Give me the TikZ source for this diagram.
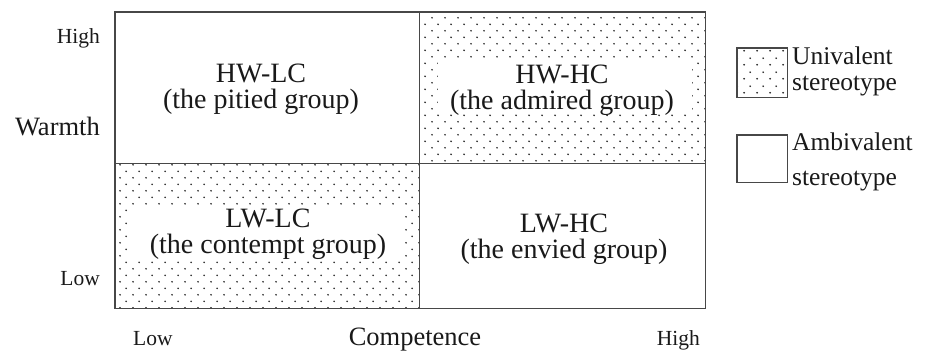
\documentclass[tikz,border=0pt]{standalone}
\usepackage{fontspec}
\setmainfont{Liberation Serif}
\usetikzlibrary{patterns}

% staggered dot fill used for the univalent quadrants
\pgfdeclarepatternformonly{stagdots}{\pgfqpoint{0pt}{0pt}}{\pgfqpoint{13pt}{13.4pt}}{\pgfqpoint{13pt}{13.4pt}}{%
  \pgfpathcircle{\pgfqpoint{3.25pt}{3.35pt}}{1.0pt}%
  \pgfpathcircle{\pgfqpoint{9.75pt}{10.05pt}}{1.0pt}%
  \pgfusepath{fill}}

\tikzset{
  frame/.style={draw=black!72, line width=1.8pt},
  dotted area/.style={pattern=stagdots, pattern color=black!85},
  celltext/.style={align=center, inner sep=0pt, text=black!90,
    font=\fontsize{28}{25.5}\selectfont},
  axislabel/.style={inner sep=0pt, text=black!90, font=\fontsize{26.5}{30}\selectfont},
  ticklabel/.style={inner sep=0pt, text=black!90, font=\fontsize{21.5}{24}\selectfont},
  legendtext/.style={align=left, inner sep=0pt, text=black!90, anchor=base west},
}

\begin{document}
\begin{tikzpicture}[x=1pt,y=-1pt]
\useasboundingbox (0,0) rectangle (939,351);

% quadrants
\node[minimum width=304pt, minimum height=151pt, inner sep=0pt, anchor=north west] (hwlc) at (115,12) {};
\node[minimum width=286pt, minimum height=151pt, inner sep=0pt, anchor=north west] (hwhc) at (419,12) {};
\node[minimum width=304pt, minimum height=145pt, inner sep=0pt, anchor=north west] (lwlc) at (115,163) {};
\node[minimum width=286pt, minimum height=145pt, inner sep=0pt, anchor=north west] (lwhc) at (419,163) {};

% dotted quadrants with a clear band behind the text
\fill[dotted area] (hwhc.north west) rectangle (hwhc.south east);
\fill[white] (438,58) rectangle (692,114);
\fill[dotted area] (lwlc.north west) rectangle (lwlc.south east);
\fill[white] (130,206) rectangle (405,261);

% grid
\draw[frame] (hwlc.north west) rectangle (lwhc.south east);
\draw[frame] (hwlc.north east) -- (lwlc.south east);
\draw[frame] (hwlc.south west) -- (hwhc.south east);

% quadrant labels (anchored at the baseline of the second line)
\node[celltext, anchor=base] (tHWLC) at (261,108) {HW-LC\\(the pitied group)};
\node[celltext, anchor=base] (tHWHC) at (562,109) {HW-HC\\(the admired group)};
\node[celltext, anchor=base] (tLWLC) at (268,253) {LW-LC\\(the contempt group)};
\node[celltext, anchor=base] (tLWHC) at (564,258) {LW-HC\\(the envied group)};

% axes
\node[axislabel, anchor=base east] (warmth) at (100,135) {Warmth};
\node[ticklabel, anchor=base east] (whigh) at (100,43) {High};
\node[ticklabel, anchor=base east] (wlow) at (100,285) {Low};
\node[axislabel, anchor=base] (comp) at (415,345) {Competence};
\node[ticklabel, anchor=base west] (clow) at (133,345) {Low};
\node[ticklabel, anchor=base east] (chigh) at (700,345) {High};

% legend
\node[minimum width=50pt, minimum height=49pt, inner sep=0pt, anchor=north west] (keyuni) at (737,48) {};
\fill[dotted area] (keyuni.north west) rectangle (keyuni.south east);
\draw[frame] (keyuni.north west) rectangle (keyuni.south east);
\node[minimum width=50pt, minimum height=47pt, inner sep=0pt, anchor=north west] (keyamb) at (737,135) {};
\draw[frame] (keyamb.north west) rectangle (keyamb.south east);

\node[legendtext, font=\fontsize{25.5}{26}\selectfont] (luni) at (792,90) {Univalent\\stereotype};
\node[legendtext, font=\fontsize{25.5}{35}\selectfont] (lamb) at (792,185) {Ambivalent\\stereotype};
\end{tikzpicture}
\end{document}
